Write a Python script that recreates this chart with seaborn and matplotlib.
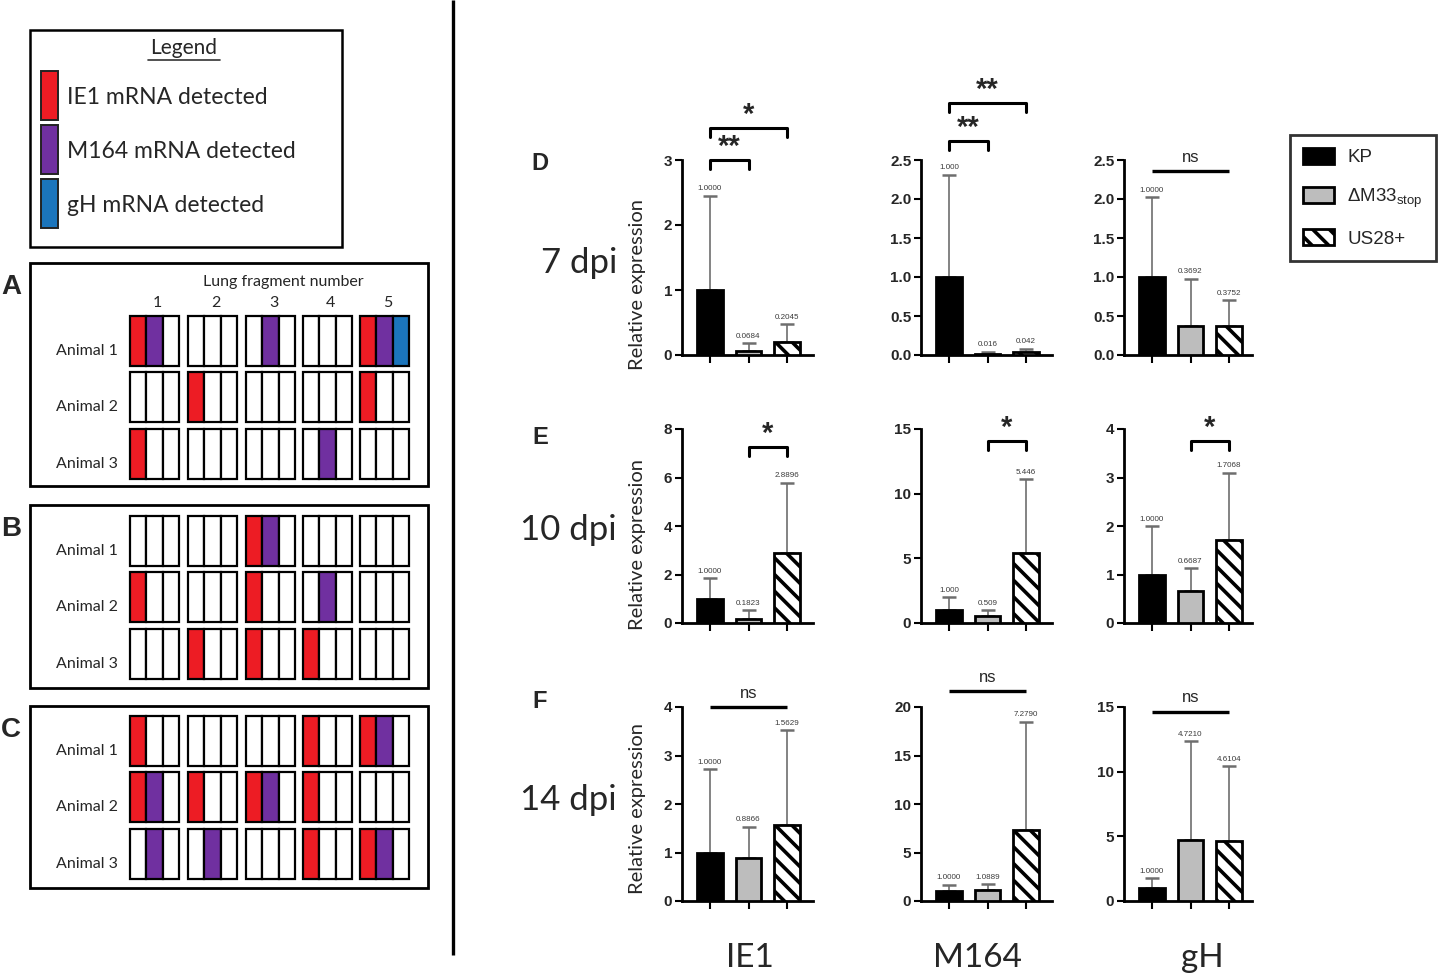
import numpy as np
import pandas as pd
import matplotlib
matplotlib.use("Agg")
import matplotlib.pyplot as plt
import seaborn as sns
from matplotlib.patches import Rectangle, Patch
from matplotlib.ticker import MultipleLocator, FormatStrFormatter

# ---------------- data ----------------
genes = ["IE1", "M164", "gH"]
timepoints = ["7 dpi", "10 dpi", "14 dpi"]
panel_letters = ["D", "E", "F"]
groups = ["KP", "ΔM33stop", "US28+"]
legend_labels = ["KP", r"ΔM33$_\mathregular{stop}$", "US28+"]

mean_7dpi = [[1.0, 0.0684, 0.2045], [1.0, 0.016, 0.042], [1.0, 0.3692, 0.3752]]
upper_7dpi = [[2.45, 0.18, 0.47], [2.31, 0.04, 0.08], [2.02, 0.98, 0.70]]
label_7dpi = [["1.0000", "0.0684", "0.2045"], ["1.000", "0.016", "0.042"], ["1.0000", "0.3692", "0.3752"]]

mean_10dpi = [[1.0, 0.1823, 2.8896], [1.0, 0.509, 5.446], [1.0, 0.6687, 1.7068]]
upper_10dpi = [[1.85, 0.52, 5.78], [2.0, 1.0, 11.1], [2.0, 1.13, 3.1]]
label_10dpi = [["1.0000", "0.1823", "2.8896"], ["1.000", "0.509", "5.446"], ["1.0000", "0.6687", "1.7068"]]

mean_14dpi = [[1.0, 0.8866, 1.5629], [1.0, 1.0889, 7.2790], [1.0, 4.7210, 4.6104]]
upper_14dpi = [[2.72, 1.53, 3.52], [1.7, 1.75, 18.5], [1.75, 12.35, 10.4]]
label_14dpi = [["1.0000", "0.8866", "1.5629"], ["1.0000", "1.0889", "7.2790"], ["1.0000", "4.7210", "4.6104"]]

ymax_7dpi, ystep_7dpi, ydec_7dpi = [3, 2.5, 2.5], [1, 0.5, 0.5], [0, 1, 1]
ymax_10dpi, ystep_10dpi, ydec_10dpi = [8, 15, 4], [2, 5, 1], [0, 0, 0]
ymax_14dpi, ystep_14dpi, ydec_14dpi = [4, 20, 15], [1, 5, 5], [0, 0, 0]

# significance: (group i, group j, label, pixel offset of bar above axis top)
sig_7dpi = [[(0, 1, "**", 0), (0, 2, "*", 32)], [(0, 1, "**", 19), (0, 2, "**", 57)], [(0, 2, "ns", -11)]]
sig_10dpi = [[(1, 2, "*", -18)], [(1, 2, "*", -12)], [(1, 2, "*", -12)]]
sig_14dpi = [[(0, 2, "ns", 0)], [(0, 2, "ns", 16)], [(0, 2, "ns", -5)]]

# lung fragment detection (per animal, per fragment: IE1 / M164 / gH flags)
detect_A = [["110", "000", "010", "000", "111"],
            ["000", "100", "000", "000", "100"],
            ["100", "000", "000", "010", "000"]]
detect_B = [["000", "000", "110", "000", "000"],
            ["100", "000", "100", "010", "000"],
            ["000", "100", "100", "100", "000"]]
detect_C = [["100", "000", "000", "100", "110"],
            ["110", "100", "110", "100", "000"],
            ["010", "010", "000", "100", "110"]]
animals = ["Animal 1", "Animal 2", "Animal 3"]
fragments = ["1", "2", "3", "4", "5"]
mrna_labels = ["IE1 mRNA detected", "M164 mRNA detected", "gH mRNA detected"]
mrna_colors = ["#ED1C24", "#7030A0", "#1B75BC"]

bar_colors = ["#000000", "#BDBDBD", "#FFFFFF"]

# ---------------- figure ----------------
W, H = 1444, 977
sns.set_theme(style="white")
plt.rcParams['font.family'] = ['Liberation Sans', 'DejaVu Sans']
plt.rcParams['hatch.linewidth'] = 2.6
plt.rcParams['hatch.color'] = 'black'
HUM = ['Lato', 'DejaVu Sans']

fig = plt.figure(figsize=(W / 100, H / 100), dpi=100)
fig.patch.set_facecolor('white')

ov = fig.add_axes([0, 0, 1, 1])
ov.set_xlim(0, W)
ov.set_ylim(H, 0)
ov.axis('off')

# divider
ov.plot([453, 453], [0, 955], color='black', lw=2.4, solid_capstyle='butt')

# left legend
ov.add_patch(Rectangle((30, 30), 312, 217, fill=False, ec='black', lw=1.8))
ov.text(184, 48, "Legend", ha='center', va='center', fontsize=15, family=HUM)
ov.plot([148, 220], [60, 60], color='#333333', lw=1.2)
sw_tops = [71, 125, 179]
for k in range(3):
    ov.bar(41, 49, width=17, bottom=sw_tops[k], align='edge', color=mrna_colors[k],
           edgecolor='#222222', linewidth=1.4)
    ov.text(67, sw_tops[k] + 26, mrna_labels[k], ha='left', va='center', fontsize=16.5, family=HUM)

# grid panels
panels = [("A", detect_A, (30, 263, 428, 486), [316, 372, 429], True),
          ("B", detect_B, (30, 505, 428, 688), [516, 572, 629], False),
          ("C", detect_C, (30, 706, 428, 888), [716, 772, 829], False)]
grp_left = [130, 188, 246, 303, 360]
grp_w = 49
cell_w = grp_w / 3
row_h = 50
for letter, det, (bx0, by0, bx1, by1), rows, header in panels:
    ov.add_patch(Rectangle((bx0, by0), bx1 - bx0, by1 - by0, fill=False, ec='black', lw=2))
    ov.text(11, by0 + 24, letter, ha='center', va='center', fontsize=20, fontweight='bold')
    if header:
        ov.text(283, 282, "Lung fragment number", ha='center', va='center', fontsize=11.5, family=HUM)
        for g in range(5):
            ov.text(grp_left[g] + grp_w / 2 + 3, 303, fragments[g], ha='center', va='center',
                    fontsize=11.5, family=HUM)
    for r in range(3):
        ov.text(118, rows[r] + row_h / 2 + 10, animals[r], ha='right', va='center',
                fontsize=11.5, family=HUM)
        for g in range(5):
            for c in range(3):
                col = mrna_colors[c] if det[r][g][c] == "1" else "white"
                ov.bar(grp_left[g] + c * cell_w, row_h, width=cell_w, bottom=rows[r], align='edge',
                       color=col, edgecolor='black', linewidth=1.6)

# bar charts
ax_left = [682, 921, 1124]
ax_right = [813, 1052, 1252]
ax_top = [160, 429, 707]
ax_bot = [355, 623, 901]
rows_data = [
    (mean_7dpi, upper_7dpi, label_7dpi, ymax_7dpi, ystep_7dpi, ydec_7dpi, sig_7dpi),
    (mean_10dpi, upper_10dpi, label_10dpi, ymax_10dpi, ystep_10dpi, ydec_10dpi, sig_10dpi),
    (mean_14dpi, upper_14dpi, label_14dpi, ymax_14dpi, ystep_14dpi, ydec_14dpi, sig_14dpi),
]
row_label_y = [263, 530, 800]
letter_y = [163, 437, 702]
ylab_y = [285, 545, 808]
pitch = 38.5

for ri, (means, uppers, labels, ymaxs, ysteps, ydecs, sigs) in enumerate(rows_data):
    ov.text(617, row_label_y[ri], timepoints[ri], ha='right', va='center', fontsize=25, family=HUM)
    ov.text(540, letter_y[ri], panel_letters[ri], ha='center', va='center', fontsize=17, fontweight='bold')
    ov.text(638, ylab_y[ri], "Relative expression", ha='center', va='center', rotation=90,
            fontsize=14.5, family=HUM)
    for gi in range(3):
        l, r_, t, b = ax_left[gi], ax_right[gi], ax_top[ri], ax_bot[ri]
        ax = fig.add_axes([l / W, 1 - b / H, (r_ - l) / W, (b - t) / H])
        ax.set_facecolor('none')
        df = pd.DataFrame({"group": groups, "value": means[gi]})
        sns.barplot(data=df, x="group", y="value", hue="group", palette=bar_colors, legend=False,
                    ax=ax, width=0.65, edgecolor='black', linewidth=2, errorbar=None, saturation=1)
        for k, p in enumerate(ax.patches):
            p.set_zorder(3)
            if k == 2:
                p.set_hatch('\\\\')
        xs = np.arange(3)
        m = np.array(means[gi])
        u = np.array(uppers[gi])
        ax.errorbar(xs, m, yerr=[np.zeros(3), u - m], fmt='none', ecolor='#6e6e6e',
                    elinewidth=1.2, capsize=5, capthick=1.8, zorder=1)
        for k in range(3):
            ax.annotate(labels[gi][k], (xs[k], u[k]), xytext=(0, 2.5), textcoords='offset points',
                        ha='center', va='bottom', fontsize=5.8, color='#3a3a3a')
        x0 = -28 / pitch
        ax.set_xlim(x0, x0 + (r_ - l) / pitch)
        ax.set_ylim(0, ymaxs[gi])
        ax.yaxis.set_major_locator(MultipleLocator(ysteps[gi]))
        ax.yaxis.set_major_formatter(FormatStrFormatter('%.{}f'.format(ydecs[gi])))
        ax.set_xticks(xs)
        ax.set_xticklabels([])
        ax.set_xlabel("")
        ax.set_ylabel("")
        for s in ['top', 'right']:
            ax.spines[s].set_visible(False)
        for s in ['left', 'bottom']:
            ax.spines[s].set_linewidth(2)
            ax.spines[s].set_color('black')
        ax.tick_params(axis='x', direction='out', length=6, width=1.5, color='black', bottom=True)
        ax.tick_params(axis='y', direction='out', length=5, width=1.5, color='black', left=True,
                       labelsize=11, pad=2)
        for tl in ax.get_yticklabels():
            tl.set_fontweight('bold')
        hpx = b - t
        tr = ax.get_xaxis_transform()
        for (i, j, lab, off) in sigs[gi]:
            y = 1 + off / hpx
            if lab == "ns":
                ax.plot([i, j], [y, y], color='black', lw=2.4, transform=tr, clip_on=False,
                        solid_capstyle='butt')
                ax.text((i + j) / 2, y + 14 / hpx, "ns", ha='center', va='center', fontsize=12,
                        transform=tr)
            else:
                ax.plot([i, i, j, j], [y - 9 / hpx, y, y, y - 9 / hpx], color='black', lw=2.2,
                        transform=tr, clip_on=False)
                ax.text((i + j) / 2, y + 13 / hpx, lab, ha='center', va='center', fontsize=21,
                        fontweight='bold', transform=tr)

gene_x = [750, 978, 1202]
for gi in range(3):
    ov.text(gene_x[gi], 958, genes[gi], ha='center', va='center', fontsize=24, family=HUM)

# right legend
handles = [Patch(facecolor=bar_colors[0], edgecolor='black', linewidth=2),
           Patch(facecolor=bar_colors[1], edgecolor='black', linewidth=2),
           Patch(facecolor=bar_colors[2], edgecolor='black', linewidth=2, hatch='\\\\')]
leg = fig.legend(handles, legend_labels, loc='upper left', bbox_to_anchor=(1290 / W, 1 - 135 / H),
                 frameon=True, fancybox=False, edgecolor='black', fontsize=13.5,
                 handlelength=1.65, handleheight=0.9, labelspacing=1.05, borderpad=0.7,
                 handletextpad=0.7, borderaxespad=0)
leg.get_frame().set_linewidth(2)

fig.savefig("out.png", dpi=100, facecolor='white')
